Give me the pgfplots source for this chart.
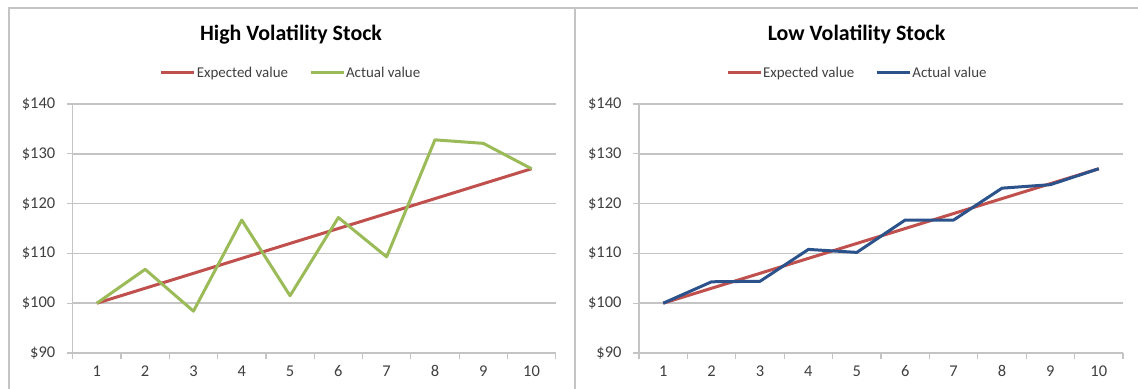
\documentclass[border=0pt]{standalone}
\usepackage{pgfplots}
\pgfplotsset{compat=1.18}
\usepackage{fontspec}
\setmainfont{Carlito}
\definecolor{exred}{HTML}{C0504D}
\definecolor{exgreen}{HTML}{9BBB59}
\definecolor{exblue}{HTML}{2C528C}
\definecolor{gridgray}{HTML}{C4C4C4}
\definecolor{labgray}{HTML}{404040}
\pgfplotsset{
  panel/.style={
    anchor=south west, scale only axis, width=483bp, height=249bp,
    xmin=0.5, xmax=10.5, ymin=90, ymax=140,
    /pgf/number format/assume math mode=true,
    xtick={1,...,10}, ytick={90,100,...,140},
    yticklabels={\$90,\$100,\$110,\$120,\$130,\$140},
    minor xtick={0.5,1.5,...,10.5},
    axis x line*=bottom, axis y line*=left,
    axis line style={-, draw=gridgray, line width=1.5bp},
    ymajorgrids, grid style={draw=gridgray, line width=1.5bp},
    tick align=outside,
    major tick length=6bp, minor tick length=6bp,
    major x tick style={draw=none},
    minor x tick style={draw=gridgray, line width=1.2bp},
    major y tick style={draw=gridgray, line width=1.2bp},
    ticklabel style={font=\fontsize{16.5}{18}\selectfont, text=labgray},
    xticklabel style={yshift=-3bp},
    yticklabel style={xshift=-8bp},
    legend columns=2,
    legend style={draw=none, fill=none, anchor=center,
      font=\fontsize{15}{17}\selectfont, text=labgray,
      inner sep=0pt,
      /tikz/every even column/.append style={column sep=20bp},
      nodes={inner xsep=1bp}},
    legend image code/.code={\draw[##1] (0bp,0bp) -- (33bp,0bp);},
    every axis plot/.append style={line width=3bp, line join=round},
  }
}
\begin{document}
\begin{tikzpicture}
\path[use as bounding box] (0,0) rectangle (1138bp,389bp);
\fill[white] (0,0) rectangle (1138bp,389bp);
\draw[gridgray, line width=2bp] (9bp,0bp) -- (9bp,381bp) -- (1138bp,381bp);
\draw[gridgray, line width=2.5bp] (575bp,0bp) -- (575bp,381bp);
\node[font=\fontsize{22}{26}\selectfont\bfseries] at (291bp,354bp) {High Volatility Stock};
\node[font=\fontsize{22}{26}\selectfont\bfseries] at (856.5bp,354bp) {Low Volatility Stock};
\begin{axis}[panel, at={(72.7bp,36bp)},
  legend style={at={(axis description cs:0.451,1.1245)}}]
\addplot[exred] coordinates {(1,100) (2,103) (3,106) (4,109) (5,112) (6,115) (7,118) (8,121) (9,124) (10,127)};
\addlegendentry{Expected value}
\addplot[exgreen] coordinates {(1,100) (2,106.8) (3,98.4) (4,116.7) (5,101.5) (6,117.2) (7,109.3) (8,132.8) (9,132.1) (10,127)};
\addlegendentry{Actual value}
\end{axis}
\begin{axis}[panel, at={(639bp,36bp)}, width=484bp,
  legend style={at={(axis description cs:0.45,1.1245)}}]
\addplot[exred] coordinates {(1,100) (2,103) (3,106) (4,109) (5,112) (6,115) (7,118) (8,121) (9,124) (10,127)};
\addlegendentry{Expected value}
\addplot[exblue] coordinates {(1,100) (2,104.3) (3,104.4) (4,110.8) (5,110.2) (6,116.7) (7,116.7) (8,123.1) (9,123.8) (10,127)};
\addlegendentry{Actual value}
\end{axis}
\end{tikzpicture}
\end{document}
